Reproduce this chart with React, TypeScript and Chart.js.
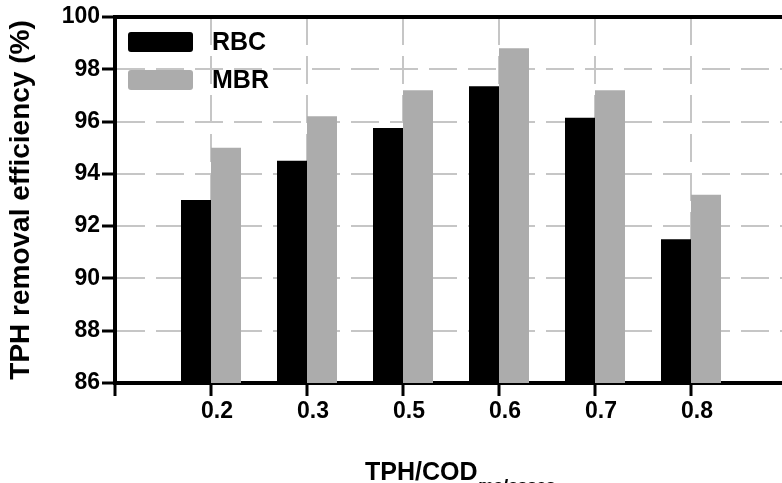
import { useEffect, useRef } from 'react';
import { Chart, registerables } from 'chart.js';

Chart.register(...registerables);

const categories = ['', '0.2', '0.3', '0.5', '0.6', '0.7', '0.8', ''];
const rbcValues = [null, 93.0, 94.5, 95.75, 97.35, 96.15, 91.5, null];
const mbrValues = [null, 95.0, 96.2, 97.2, 98.8, 97.2, 93.2, null];
const yTickValues = [86, 88, 90, 92, 94, 96, 98, 100];
const seriesNames = ['RBC', 'MBR'];
const seriesColors = ['#000000', '#acacac'];
const yTitle = 'TPH removal efficiency (%)';
const xTitleMain = 'TPH/COD';
const xTitleSub = 'molasses';

const FONT = '"Liberation Sans", Arial, Helvetica, sans-serif';
const GRID = '#c6c6c6';

const insideLegend = {
  id: 'insideLegend',
  afterDatasetsDraw(chart: any) {
    const { ctx, chartArea } = chart;
    ctx.save();
    chart.data.datasets.forEach((ds: any, i: number) => {
      const bx = chartArea.left + 13;
      const by = chartArea.top + 15 + i * 38;
      ctx.fillStyle = ds.backgroundColor;
      ctx.beginPath();
      if ((ctx as any).roundRect) (ctx as any).roundRect(bx, by, 65, 20, 3);
      else ctx.rect(bx, by, 65, 20);
      ctx.fill();
      ctx.fillStyle = '#000';
      ctx.font = `bold 25px ${FONT}`;
      ctx.textBaseline = 'middle';
      ctx.textAlign = 'left';
      ctx.fillText(ds.label, bx + 84, by + 11);
    });
    ctx.restore();
  },
};

const xTitlePlugin = {
  id: 'xTitleSub',
  afterDraw(chart: any) {
    const { ctx, chartArea } = chart;
    ctx.save();
    const mainFont = `bold 25px ${FONT}`;
    const subFont = `italic bold 17px ${FONT}`;
    ctx.font = mainFont;
    const w1 = ctx.measureText(xTitleMain).width;
    ctx.font = subFont;
    const w2 = ctx.measureText(xTitleSub).width;
    const start = (chartArea.left + chartArea.right) / 2 + 9 - (w1 + w2) / 2;
    ctx.fillStyle = '#000';
    ctx.textBaseline = 'alphabetic';
    ctx.textAlign = 'left';
    ctx.font = mainFont;
    ctx.fillText(xTitleMain, start, 480);
    ctx.font = subFont;
    ctx.fillText(xTitleSub, start + w1, 491);
    ctx.restore();
  },
};

export default function App() {
  const ref = useRef<HTMLCanvasElement | null>(null);

  useEffect(() => {
    document.body.style.margin = '0';
    document.body.style.overflow = 'hidden';
    const canvas = ref.current;
    if (!canvas) return;
    const chart = new Chart(canvas, {
      type: 'bar',
      data: {
        labels: categories,
        datasets: [
          {
            label: seriesNames[0],
            data: rbcValues as any,
            backgroundColor: seriesColors[0],
            categoryPercentage: 0.625,
            barPercentage: 1,
          },
          {
            label: seriesNames[1],
            data: mbrValues as any,
            backgroundColor: seriesColors[1],
            categoryPercentage: 0.625,
            barPercentage: 1,
          },
        ],
      },
      options: {
        responsive: false,
        animation: false,
        devicePixelRatio: 1,
        layout: { padding: { left: 0, right: 5, top: 17, bottom: 0 } },
        plugins: {
          legend: { display: false },
          tooltip: { enabled: false },
          title: { display: false },
        },
        scales: {
          x: {
            type: 'category',
            position: 'bottom',
            offset: false,
            grid: {
              display: true,
              offset: false,
              color: GRID,
              lineWidth: 2,
              drawTicks: true,
              tickLength: 13,
              tickColor: '#000',
              tickWidth: 3,
            },
            border: { display: true, color: '#000', width: 4, dash: [28, 11] },
            ticks: {
              color: '#000',
              font: { family: FONT, size: 23, weight: 'bold' },
              padding: 2,
              labelOffset: 6,
              maxRotation: 0,
              autoSkip: false,
            },
            afterFit: (scale: any) => {
              scale.height = 100;
            },
          },
          x2: {
            type: 'category',
            position: 'top',
            offset: false,
            grid: { display: false, drawTicks: false, offset: false },
            border: { display: true, color: '#000', width: 4 },
            ticks: { display: false },
            afterFit: (scale: any) => {
              scale.height = 0;
            },
          },
          y: {
            type: 'linear',
            min: 86,
            max: 100,
            grid: {
              display: true,
              color: GRID,
              lineWidth: 2,
              drawTicks: true,
              tickLength: 13,
              tickColor: '#000',
              tickWidth: 3,
            },
            border: { display: true, color: '#000', width: 4, dash: [28, 11] },
            ticks: {
              color: '#000',
              font: { family: FONT, size: 23, weight: 'bold' },
              padding: 2,
            },
            afterBuildTicks: (scale: any) => {
              scale.ticks = yTickValues.map((v) => ({ value: v }));
            },
            title: {
              display: true,
              text: yTitle,
              color: '#000',
              font: { family: FONT, size: 28, weight: 'bold' },
              padding: { top: 4, bottom: 0 },
            },
            afterFit: (scale: any) => {
              scale.width = 115;
            },
          },
        },
      } as any,
      plugins: [insideLegend, xTitlePlugin],
    });
    return () => chart.destroy();
  }, []);

  return (
    <div style={{ width: 782, height: 483, overflow: 'hidden', position: 'relative', background: '#fff' }}>
      <canvas ref={ref} width={792} height={483} style={{ display: 'block', width: 792, height: 483 }} />
    </div>
  );
}
